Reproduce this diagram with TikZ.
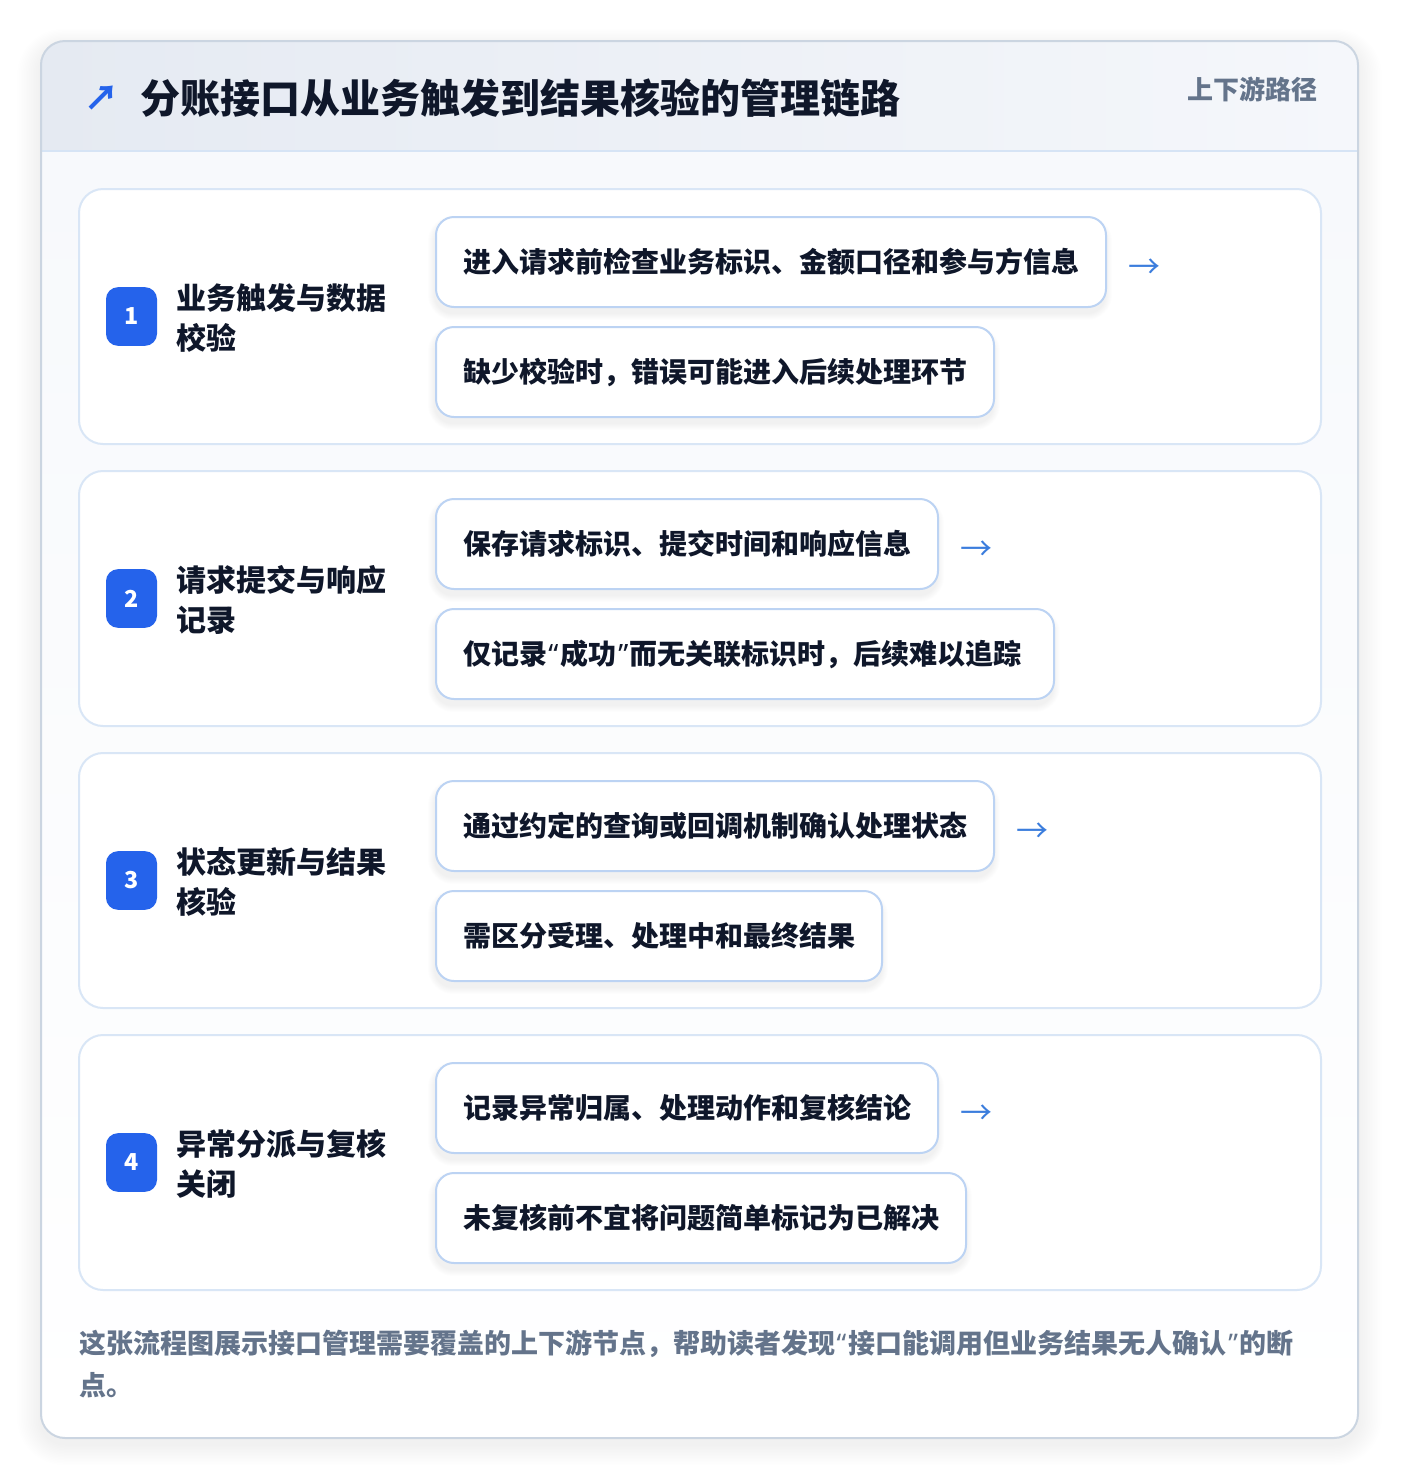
\documentclass[tikz,border=0pt]{standalone}
\usepackage{fontspec}
\setmainfont{Noto Sans CJK SC}
\newfontfamily\qfont{Noto Sans}
\newcommand\myLQ{\kern1pt{\qfont “}\kern1.5pt}
\newcommand\myRQ{\kern1.5pt{\qfont ”}\kern1pt}
\usetikzlibrary{calc}
\definecolor{cardborder}{HTML}{CBD5E1}
\definecolor{headL}{HTML}{E5EAF2}
\definecolor{headR}{HTML}{F5F7FB}
\definecolor{headline}{HTML}{D6E4F5}
\definecolor{bodytop}{HTML}{F7F9FC}
\definecolor{stepborder}{HTML}{D9E6F6}
\definecolor{itemborder}{HTML}{BCD3F3}
\definecolor{badgeblue}{HTML}{2563EB}
\definecolor{ink}{HTML}{0F172A}
\definecolor{slate}{HTML}{64748B}
\definecolor{arrowblue}{HTML}{3B7DDD}
\tikzset{
  stepcard/.style={draw=stepborder, line width=1.5pt, fill=white, rounded corners=18pt},
  badge/.style={fill=badgeblue, text=white, rounded corners=9pt, minimum width=38.25pt,
    minimum height=44pt, inner sep=0pt, font=\fontsize{17.5}{20}\selectfont\bfseries},
  steptitle/.style={anchor=west, align=left, inner sep=0pt, text=ink,
    font=\fontsize{22.5}{30}\selectfont\bfseries},
  itembox/.style={anchor=west, draw=itemborder, line width=1.5pt, fill=white,
    rounded corners=13.5pt, minimum height=67.5pt, inner xsep=20.25pt, inner ysep=0pt,
    text=ink, font=\fontsize{21}{25}\selectfont\bfseries},
  arrowtxt/.style={anchor=west, inner sep=0pt, text=arrowblue, font=\fontsize{24}{28}\selectfont},
}
% #1 name, #2 y centre (px), #3 width (px), #4 text
\newcommand\itemnode[4]{%
  \foreach \i in {1,...,7}{%
    \fill[black, opacity=0.009, rounded corners=13.5pt+\i*0.75pt]
      (435-\i, #2-45-\i+6) rectangle (435+#3+\i, #2+45+\i+6);}
  \node[itembox] (#1) at (435,#2) {\makebox[\dimexpr #3pt*3/4-40.5pt\relax][l]{#4}};%
}
\begin{document}
\begin{tikzpicture}[x=0.75pt,y=-0.75pt]
\useasboundingbox (0,0) rectangle (1400,1482);
\fill[white] (0,0) rectangle (1400,1482);
% outer shadow
\foreach \i in {1,...,14}{%
  \fill[black, opacity=0.004, rounded corners=18pt+\i*1.2pt]
    (41-\i*1.7, 41-\i*1.3+6) rectangle (1358+\i*1.7, 1438+\i*1.5+6);}
% card
\coordinate (cardNW) at (41,41);
\coordinate (cardSE) at (1358,1438);
\begin{scope}
  \clip[rounded corners=18pt] (cardNW) rectangle (cardSE);
  \shade[top color=bodytop, bottom color=white] (41,151) rectangle (1358,1438);
  \shade[left color=headL, right color=headR] (41,41) rectangle (1358,151);
  \draw[headline, line width=1.5pt] (41,151) -- (1358,151);
\end{scope}
\draw[cardborder, line width=1.5pt, rounded corners=18pt] (cardNW) rectangle (cardSE);
% header
\node[inner sep=0pt, text=badgeblue, font=\fontsize{26}{30}\selectfont\bfseries] (icon) at (102,98) {↗};
\node[anchor=west, inner sep=0pt, text=ink, font=\fontsize{30}{36}\selectfont\bfseries] (title) at (140,98)
  {分账接口从业务触发到结果核验的管理链路};
\node[anchor=east, inner sep=0pt, text=slate, font=\fontsize{19.5}{24}\selectfont\bfseries] (tag) at (1318,89)
  {上下游路径};
% step cards
\foreach \c/\n in {316.5/1, 598.5/2, 880.5/3, 1162.5/4}{%
  \draw[stepcard] (79,\c-127.5) rectangle (1321,\c+127.5);
  \node[badge] (badge\n) at (131.5,\c) {\n};
}
\node[steptitle] (t1) at (176,317.5) {业务触发与数据\\校验};
\node[steptitle] (t2) at (176,599.5) {请求提交与响应\\记录};
\node[steptitle] (t3) at (176,881.5) {状态更新与结果\\核验};
\node[steptitle] (t4) at (176,1163.5) {异常分派与复核\\关闭};
% items
\itemnode{b11}{262}{670}{进入请求前检查业务标识、金额口径和参与方信息}
\itemnode{b12}{372}{558}{缺少校验时，错误可能进入后续处理环节}
\itemnode{b21}{544}{502}{保存请求标识、提交时间和响应信息}
\itemnode{b22}{654}{618}{仅记录\myLQ 成功\myRQ 而无关联标识时，后续难以追踪}
\itemnode{b31}{826}{558}{通过约定的查询或回调机制确认处理状态}
\itemnode{b32}{936}{446}{需区分受理、处理中和最终结果}
\itemnode{b41}{1108}{502}{记录异常归属、处理动作和复核结论}
\itemnode{b42}{1218}{530}{未复核前不宜将问题简单标记为已解决}
% arrows
\foreach \b in {b11,b21,b31,b41}{%
  \node[arrowtxt] (a\b) at ($(\b.east)+(21,7)$) {→};
}
% footer
\node[anchor=west, align=left, inner sep=0pt, text=slate, font=\fontsize{20.25}{31.5}\selectfont\bfseries] (foot) at (79,1364)
  {这张流程图展示接口管理需要覆盖的上下游节点，帮助读者发现\myLQ 接口能调用但业务结果无人确认\myRQ 的断\\点。};
\end{tikzpicture}
\end{document}
